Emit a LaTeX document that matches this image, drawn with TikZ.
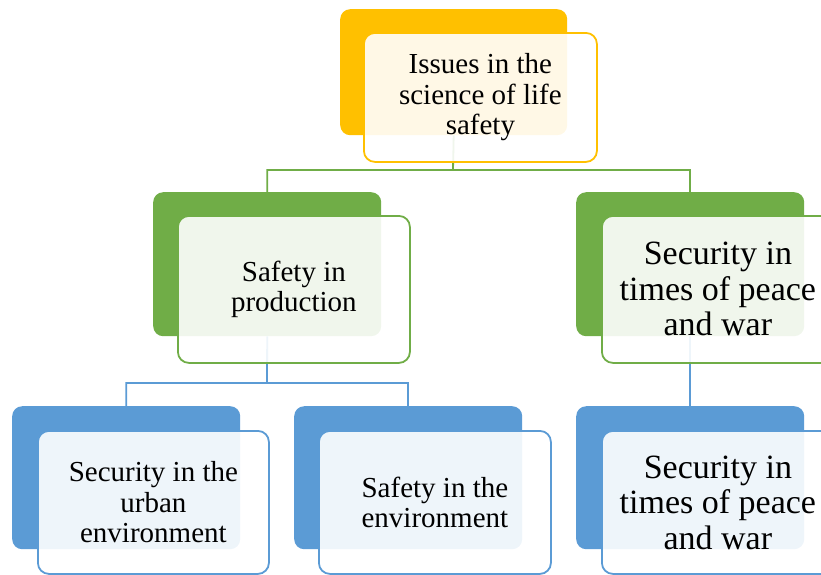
\documentclass[tikz,border=0pt]{standalone}
\usepackage{fontspec}
\setmainfont{Liberation Serif}
\definecolor{cyel}{HTML}{FFC000}
\definecolor{cgrn}{HTML}{70AD47}
\definecolor{cblu}{HTML}{5B9BD5}
\begin{document}
\begin{tikzpicture}[x=1pt,y=-1pt,
  backbox/.style={draw=none, fill=#1, rounded corners=10pt, inner sep=0pt, anchor=north west},
  frontbox/.style={draw=#1, line width=1.8pt, fill=white, fill opacity=0.9, text opacity=1,
    rounded corners=11pt, inner sep=0pt, anchor=north west, align=center,
    font=\fontsize{29}{30.5}\selectfont},
  bigtext/.style={font=\fontsize{34}{35.5}\selectfont},
  conn/.style={draw=#1, line width=1.8pt}
]
\useasboundingbox (0,0) rectangle (821,574);
\clip (0,0) rectangle (821,574);

% back boxes
\node[backbox=cyel, minimum width=227pt, minimum height=126pt] (tb) at (340,9) {};
\node[backbox=cgrn, minimum width=228pt, minimum height=144pt] (lb) at (153,192) {};
\node[backbox=cgrn, minimum width=228pt, minimum height=144pt] (rb) at (576,192) {};
\node[backbox=cblu, minimum width=228pt, minimum height=143pt] (b1b) at (12,406) {};
\node[backbox=cblu, minimum width=228pt, minimum height=143pt] (b2b) at (294,406) {};
\node[backbox=cblu, minimum width=228pt, minimum height=143pt] (b3b) at (576,406) {};

% connectors
\coordinate (j1) at (453,170);
\coordinate (j2) at (267,383);
\draw[conn=cgrn] (tb.south) -- (j1) -| (lb.north);
\draw[conn=cgrn] (j1) -| (rb.north);
\draw[conn=cblu] (lb.south) -- (j2) -| (b1b.north);
\draw[conn=cblu] (j2) -| (b2b.north);
\draw[conn=cblu] (rb.south) -- (b3b.north);

% front boxes
\node[frontbox=cyel, minimum width=233pt, minimum height=129pt] (tf) at (363,32)
  {Issues in the\\science of life\\safety};
\node[frontbox=cgrn, minimum width=232pt, minimum height=147pt] (lf) at (177,215)
  {Safety in\\production};
\node[frontbox=cgrn, bigtext, minimum width=232pt, minimum height=147pt] (rf) at (601,215)
  {Security in\\times of peace\\and war};
\node[frontbox=cblu, minimum width=231pt, minimum height=143pt] (b1f) at (37,430)
  {Security in the\\urban\\environment};
\node[frontbox=cblu, minimum width=232pt, minimum height=143pt] (b2f) at (318,430)
  {Safety in the\\environment};
\node[frontbox=cblu, bigtext, minimum width=232pt, minimum height=143pt] (b3f) at (601,430)
  {Security in\\times of peace\\and war};
\end{tikzpicture}
\end{document}
